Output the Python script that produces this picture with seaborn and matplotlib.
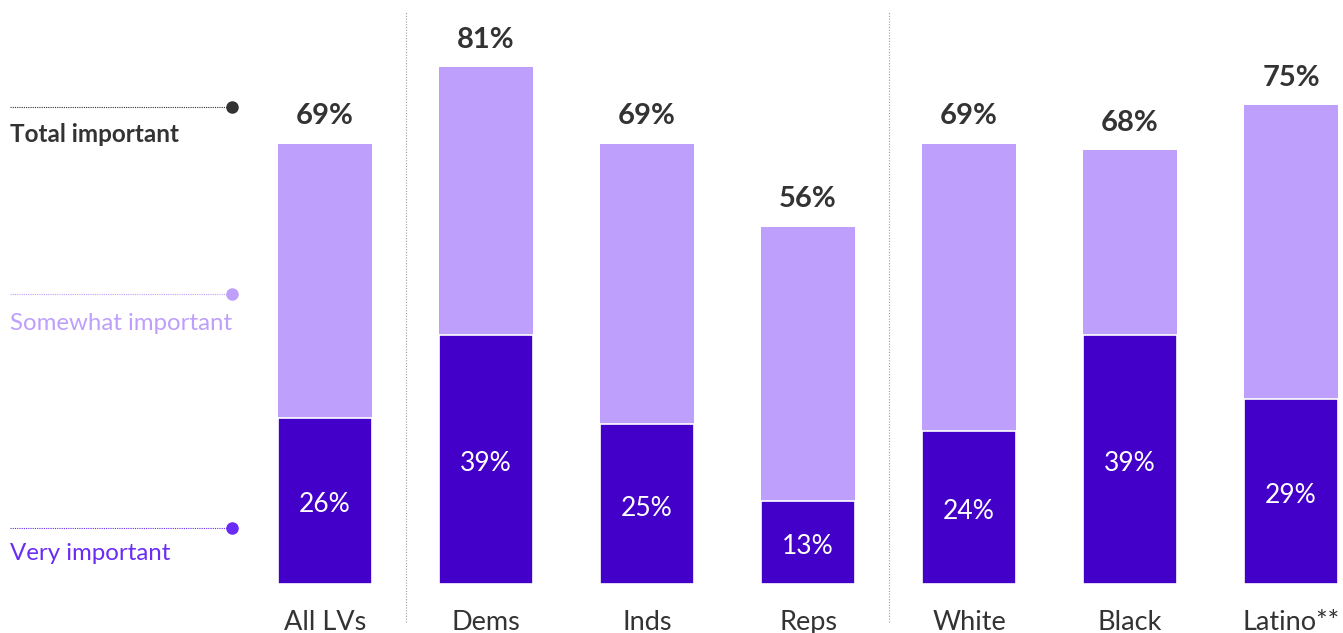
import matplotlib
matplotlib.use("Agg")
import matplotlib.pyplot as plt
import seaborn as sns
import pandas as pd

# Survey data: share of likely voters rating the issue important
groups = ["All LVs", "Dems", "Inds", "Reps", "White", "Black", "Latino**"]
total_important = [69, 81, 69, 56, 69, 68, 75]
very_important = [26, 39, 25, 13, 24, 39, 29]

LIGHT = "#BEA0FC"
DARK = "#4300C8"
VERY_TXT = "#6A2BF5"
INK = "#333333"

sns.set_theme(style="white")
plt.rcParams["font.family"] = ["Lato", "DejaVu Sans"]

df = pd.DataFrame({"group": groups, "total": total_important, "very": very_important})

fig = plt.figure(figsize=(13.43, 6.33), dpi=100)
ax = fig.add_axes([0, 0, 1, 1])

bw = 0.584
sns.barplot(data=df, x="group", y="total", order=groups, color=LIGHT,
            saturation=1, width=bw, ax=ax, linewidth=0)
sns.barplot(data=df, x="group", y="very", order=groups, color=DARK,
            saturation=1, width=bw, ax=ax, edgecolor="white", linewidth=1.2)

ax.set_xlim(-2.019, 6.323)
ax.set_ylim(-7.68, 91.5)
ax.axis("off")

for i, (t, v) in enumerate(zip(total_important, very_important)):
    ax.text(i, t + 4.3, f"{t}%", ha="center", va="center", fontsize=21,
            fontweight="bold", color=INK)
    ax.text(i, v / 2 - 0.6, f"{v}%", ha="center", va="center", fontsize=19,
            color="white", fontweight="normal")
    ax.text(i, -6.0, groups[i], ha="center", va="center", fontsize=19.5,
            color=INK, fontweight="normal")

# Dotted separators between the party and race groups
for xs in (0.5, 3.5):
    ax.plot([xs, xs], [-6.0, 89.6], color="#9a9a9a", lw=0.8, ls=(0, (1, 1.5)))

# Left-hand key
key = [
    (1 - 107 / 633, 1 - 134 / 633, "Total important", INK, "bold", 17.5),
    (1 - 294 / 633, 1 - 323 / 633, "Somewhat important", LIGHT, "normal", 17.3),
    (1 - 528 / 633, 1 - 554 / 633, "Very important", VERY_TXT, "normal", 17.3),
]
for ly, ty, label, col, wt, fs in key:
    ax.plot([10 / 1343, 232 / 1343], [ly, ly], transform=ax.transAxes,
            color=col, lw=0.8, ls=(0, (1, 1)))
    ax.plot([232 / 1343], [ly], transform=ax.transAxes, marker="o",
            ms=8, color=col, mec=col)
    ax.text(10 / 1343, ty, label, transform=ax.transAxes, ha="left",
            va="center", fontsize=fs, color=col, fontweight=wt)

fig.savefig("out.png", dpi=100)
